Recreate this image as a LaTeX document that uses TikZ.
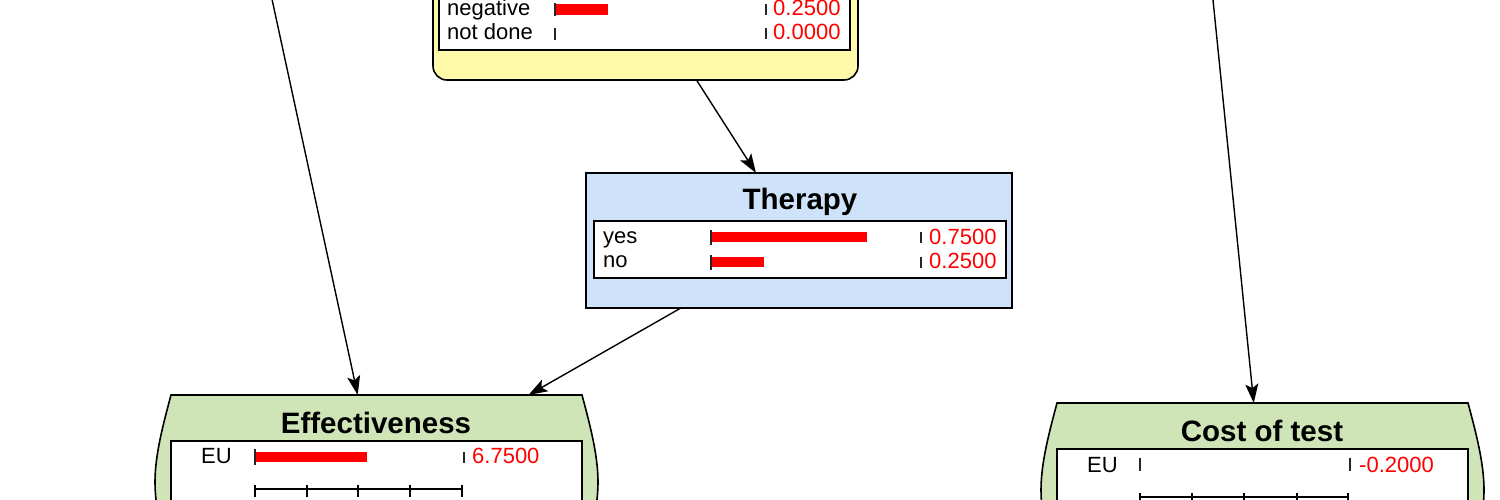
\documentclass[tikz,border=0pt]{standalone}
\usepackage{fontspec}
\setmainfont{Liberation Sans}
\usetikzlibrary{arrows.meta,calc}
\definecolor{chancefill}{RGB}{255,250,170}
\definecolor{decfill}{RGB}{206,226,250}
\definecolor{valfill}{RGB}{207,229,183}
\definecolor{valred}{RGB}{255,0,0}
\tikzset{
  nodebox/.style={draw=black, line width=1.6pt, inner sep=0pt, outer sep=0pt},
  ghost/.style={inner sep=0pt, outer sep=0pt},
  statebox/.style={draw=black, line width=1.6pt, fill=white, inner sep=0pt, outer sep=0pt},
  lbl/.style={anchor=base west, inner sep=0pt, font=\fontsize{22}{24}\selectfont},
  valtxt/.style={lbl, text=valred},
  title/.style={anchor=base, inner sep=0pt, font=\fontsize{29.5}{31}\selectfont\bfseries},
  barfill/.style={fill=valred, draw=none},
  tickmark/.style={line width=2.4pt, draw=black!85},
  axis/.style={line width=1.8pt, draw=black},
  link/.style={line width=1.4pt, draw=black, -{Stealth[length=19pt,width=13pt,inset=4pt]}}
}
\begin{document}
\begin{tikzpicture}[x=1pt,y=-1pt]
\useasboundingbox (0,0) rectangle (1500,500);
\clip (0,0) rectangle (1500,500);
\fill[white] (0,0) rectangle (1500,500);

% ---------- chance node (top, cropped) ----------
\node[nodebox, rounded corners=14pt, fill=chancefill, minimum width=425pt, minimum height=160pt] (test) at (645.5,0) {};
\node[statebox, minimum width=411pt, minimum height=100pt, anchor=south west] (testst) at (439,50) {};
\node[lbl] (tneg) at (447,16) {negative};
\node[lbl] (tnd) at (447,40) {not done};
\fill[barfill] (555,4) rectangle (608,15);
\draw[tickmark] (555,3) -- (555,16);
\draw[tickmark] (555,28) -- (555,40);
\draw[tickmark] (766,4) -- (766,15);
\draw[tickmark] (766,28) -- (766,39);
\node[valtxt] (vneg) at (773,16) {0.2500};
\node[valtxt] (vnd) at (773,40) {0.0000};

% ---------- decision node: Therapy ----------
\node[nodebox, fill=decfill, minimum width=426pt, minimum height=135pt] (therapy) at (799,240.5) {};
\node[statebox, minimum width=412pt, minimum height=57pt, anchor=north west] (therst) at (594,221) {};
\node[title] (thtitle) at (800,209) {Therapy};
\node[lbl] (tyes) at (603,243) {yes};
\node[lbl] (tno) at (603,267) {no};
\fill[barfill] (711,232) rectangle (867,242);
\fill[barfill] (711,257) rectangle (764,267);
\draw[tickmark] (711,230) -- (711,245);
\draw[tickmark] (711,255) -- (711,270);
\draw[tickmark] (921,232) -- (921,243);
\draw[tickmark] (921,257) -- (921,268);
\node[valtxt] (vyes) at (929,244) {0.7500};
\node[valtxt] (vno) at (929,268) {0.2500};

% ---------- value node: Effectiveness ----------
\node[ghost, minimum width=411pt, minimum height=174pt] (eff) at (376.5,482) {};
\draw[line width=1.6pt, fill=valfill]
  (eff.north west) -- (eff.north east)
  .. controls +(8,30) and +(0,-27) .. ([xshift=16pt]eff.east)
  .. controls +(0,27) and +(8,-30) .. (eff.south east)
  -- (eff.south west)
  .. controls +(-8,-30) and +(0,27) .. ([xshift=-16pt]eff.west)
  .. controls +(0,-27) and +(-8,30) .. (eff.north west) -- cycle;
\node[statebox, minimum width=411pt, minimum height=150pt, anchor=north west] (effst) at (171,441) {};
\node[title] (efftitle) at (376,433) {Effectiveness};
\node[lbl] (effeu) at (201,463) {EU};
\fill[barfill] (255,452) rectangle (367,462);
\draw[tickmark] (255,449) -- (255,465);
\draw[tickmark] (464,452) -- (464,463);
\node[valtxt] (effval) at (472,463) {6.7500};
\draw[axis] (255,489) -- (462,489);
\foreach \tx in {255,307,358,410,462} \draw[axis] (\tx,485) -- (\tx,497);

% ---------- value node: Cost of test ----------
\node[ghost, minimum width=411pt, minimum height=174pt] (cost) at (1262.5,490) {};
\draw[line width=1.6pt, fill=valfill]
  (cost.north west) -- (cost.north east)
  .. controls +(8,30) and +(0,-27) .. ([xshift=16pt]cost.east)
  .. controls +(0,27) and +(8,-30) .. (cost.south east)
  -- (cost.south west)
  .. controls +(-8,-30) and +(0,27) .. ([xshift=-16pt]cost.west)
  .. controls +(0,-27) and +(-8,30) .. (cost.north west) -- cycle;
\node[statebox, minimum width=411pt, minimum height=150pt, anchor=north west] (costst) at (1057,449) {};
\node[title] (costtitle) at (1262,441) {Cost of test};
\node[lbl] (costeu) at (1087,472) {EU};
\draw[tickmark] (1140,458) -- (1140,471);
\draw[tickmark] (1350,458) -- (1350,471);
\node[valtxt] (costval) at (1359,472) {-0.2000};
\draw[axis] (1140,497) -- (1348,497);
\foreach \tx in {1140,1192,1244,1297,1348} \draw[axis] (\tx,493) -- (\tx,505);

% ---------- connectors ----------
\coordinate (srcA) at (270,-10);
\coordinate (srcB) at (1212,-10);
\draw[link] (srcA) -- (eff);
\draw[link] (srcB) -- (cost);
\draw[link] (test) -- (therapy);
\draw[link] (therapy) -- (eff);
\end{tikzpicture}
\end{document}
